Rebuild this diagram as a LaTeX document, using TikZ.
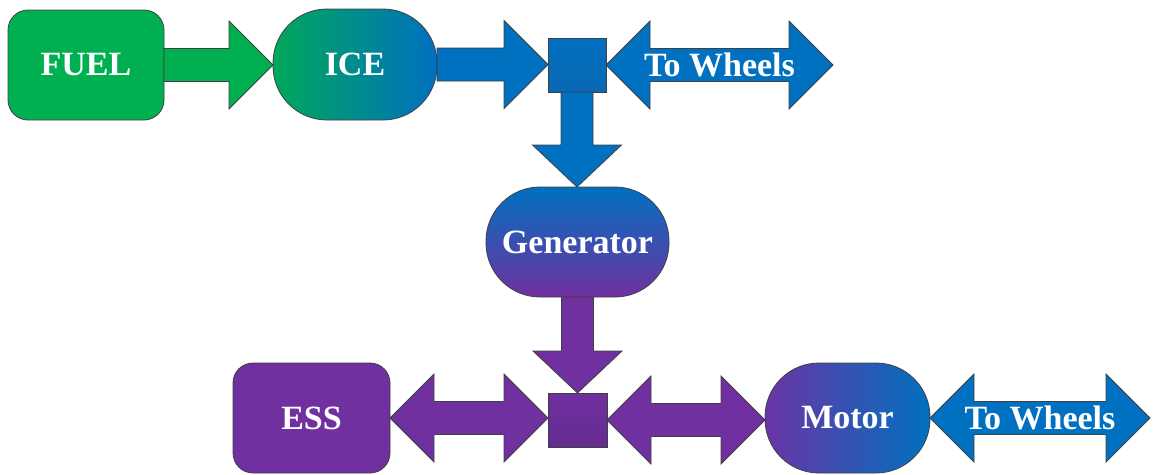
\documentclass[tikz,border=0pt]{standalone}
\usepackage{fontspec}
\setmainfont{Liberation Serif}
\usetikzlibrary{calc}
\definecolor{cgreen}{HTML}{00B050}
\definecolor{cgreenb}{HTML}{00A85A}
\definecolor{cblue}{HTML}{0070C0}
\definecolor{cbluesq}{HTML}{0A68B4}
\definecolor{cpurple}{HTML}{7030A0}
\definecolor{cpurplem}{HTML}{6A35A5}
\definecolor{cedge}{HTML}{404040}
\tikzset{
  box/.style={draw=cedge, line width=0.8pt, inner sep=0pt, outer sep=0pt,
    text=white, font=\fontsize{34}{36}\selectfont\bfseries},
  rbox/.style={box, rounded corners=20pt},
  sbox/.style={box, rounded corners=54pt},
  sqbox/.style={box, minimum width=58pt, minimum height=54pt},
  blockarrow/.style={draw=cedge, line width=0.8pt, line join=miter},
  lbl/.style={text=white, font=\fontsize{34}{36}\selectfont\bfseries, inner sep=0pt}
}
\newcommand\hArrow[3]{%
  \path[blockarrow, fill=#3] let \p1=(#1), \p2=(#2) in
    (\x1,\y1+16.5pt) -- (\x2-44pt,\y1+16.5pt) -- (\x2-44pt,\y1+44pt) -- (\x2,\y1)
    -- (\x2-44pt,\y1-44pt) -- (\x2-44pt,\y1-16.5pt) -- (\x1,\y1-16.5pt) -- cycle;}
\newcommand\dArrow[3]{%
  \path[blockarrow, fill=#3] let \p1=(#1), \p2=(#2) in
    (\x1,\y1) -- (\x1+44pt,\y1+44pt) -- (\x1+44pt,\y1+16.5pt) -- (\x2-44pt,\y1+16.5pt)
    -- (\x2-44pt,\y1+44pt) -- (\x2,\y1) -- (\x2-44pt,\y1-44pt) -- (\x2-44pt,\y1-16.5pt)
    -- (\x1+44pt,\y1-16.5pt) -- (\x1+44pt,\y1-44pt) -- cycle;}
\newcommand\vArrow[3]{%
  \path[blockarrow, fill=#3] let \p1=(#1), \p2=(#2) in
    (\x1-16pt,\y1) -- (\x1-16pt,\y2+42pt) -- (\x1-44.5pt,\y2+42pt) -- (\x1,\y2)
    -- (\x1+44.5pt,\y2+42pt) -- (\x1+16pt,\y2+42pt) -- (\x1+16pt,\y1) -- cycle;}
\begin{document}
\begin{tikzpicture}[x=1pt,y=1pt]
\useasboundingbox (0,0) rectangle (1154,-474);
% nodes
\node[rbox, fill=cgreen, minimum width=156pt, minimum height=110pt] (fuel) at (86,-65) {FUEL};
\node[sbox, left color=cgreenb, right color=cblue, minimum width=164pt, minimum height=111pt] (ice) at (355,-64.5) {ICE};
\node[sqbox, top color=cblue, bottom color=cbluesq] (sq1) at (577,-65) {};
\node[sbox, top color=cblue, bottom color=cpurple, minimum width=183pt, minimum height=110pt] (gen) at (577.5,-242) {Generator};
\node[sqbox, top color=cpurple, bottom color=cpurple!90!black, minimum width=59pt] (sq2) at (577.5,-420) {};
\node[rbox, fill=cpurple, minimum width=157pt, minimum height=110pt] (ess) at (311.5,-418) {ESS};
\node[sbox, left color=cpurplem, right color=cblue, minimum width=165pt, minimum height=110pt] (motor) at (847.5,-418) {Motor};
\coordinate (w1) at (833,-65);
\coordinate (w2) at (1150,-418);
% connectors
\hArrow{fuel.east}{ice.west}{cgreen}
\hArrow{ice.east}{sq1.west}{cblue}
\dArrow{sq1.east}{w1}{cblue}
\vArrow{sq1.south}{gen.north}{cblue}
\vArrow{gen.south}{sq2.north}{cpurple}
\dArrow{ess.east}{sq2.west}{cpurple}
\dArrow{sq2.east}{motor.west}{cpurple}
\dArrow{motor.east}{w2}{cblue}
% labels
\node[lbl] (tw1) at ($(sq1.east)!0.5!(w1)$) {To Wheels};
\node[lbl] (tw2) at ($(motor.east)!0.5!(w2)$) {To Wheels};
\end{tikzpicture}
\end{document}
